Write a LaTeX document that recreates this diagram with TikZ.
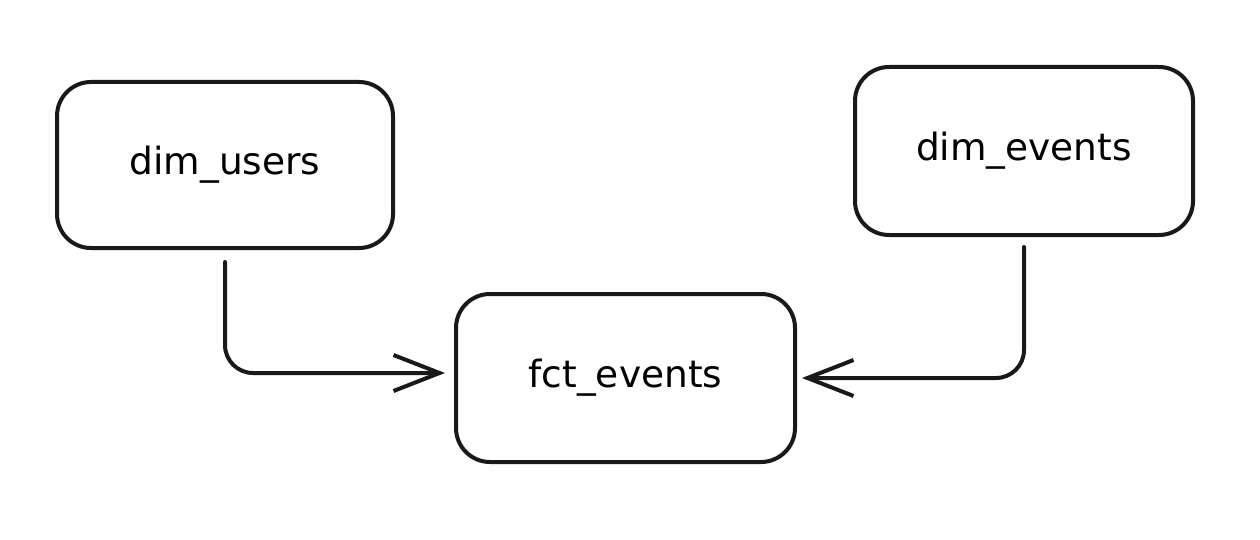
\documentclass[tikz,border=0pt]{standalone}
\usepackage{fontspec}
\setmainfont{DejaVu Sans}
\usetikzlibrary{arrows.meta}
\begin{document}
\begin{tikzpicture}[x=1pt,y=-1pt,
  tbl/.style={draw=black!90, line width=4pt, rounded corners=34pt, fill=white,
    minimum width=336pt, minimum height=166pt, inner sep=0pt,
    font=\fontsize{37.5}{42}\selectfont},
  flow/.style={draw=black!90, line width=4pt, rounded corners=28pt, line cap=round,
    -{Straight Barb[length=46pt,width=36pt,line width=4pt]}}
]
\useasboundingbox[fill=white] (0,0) rectangle (1260,540);
\node[tbl] (du) at (225,165) {dim\_users};
\node[tbl, minimum width=338pt, minimum height=168pt] (de) at (1024,151) {dim\_events};
\node[tbl, minimum width=339pt, minimum height=168pt] (fe) at (625.5,378) {fct\_events};
\draw[flow, shorten <=12pt, shorten >=9pt] (du.south) |- ([yshift=5pt]fe.west);
\draw[flow, shorten <=10pt, shorten >=5pt] (de.south) |- (fe.east);
\end{tikzpicture}
\end{document}
